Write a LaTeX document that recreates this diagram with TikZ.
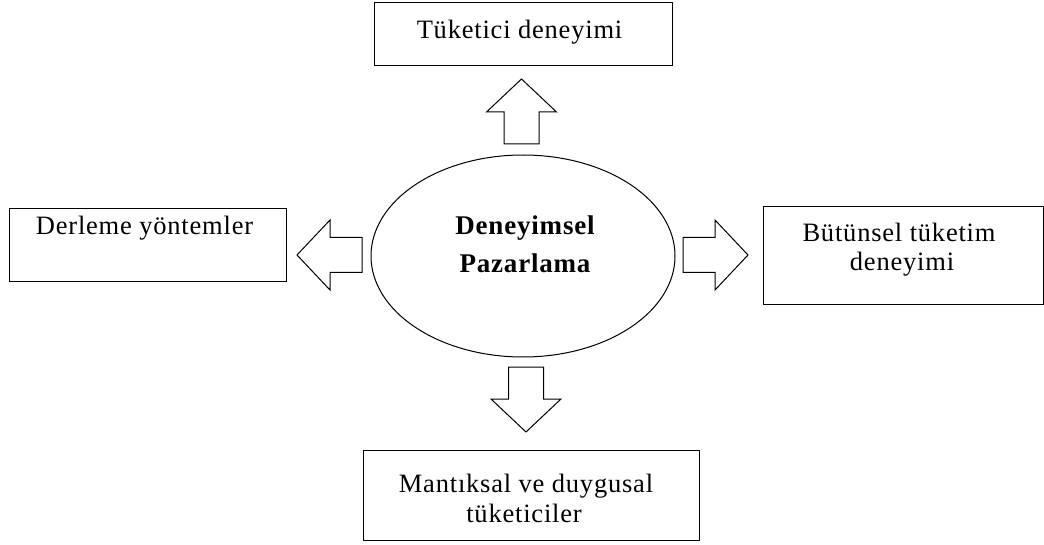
\documentclass[tikz,border=0pt]{standalone}
\usepackage{fontspec}
\setmainfont{Liberation Serif}[LetterSpace=3]
\usetikzlibrary{shapes.geometric}
\begin{document}
\begin{tikzpicture}[x=1pt,y=-1pt,
  box/.style={draw,line width=1pt,rectangle,inner sep=0pt},
  oval/.style={draw,line width=1pt,ellipse,inner sep=0pt},
  txt/.style={anchor=base,inner sep=0pt,font=\fontsize{26.5}{29}\selectfont},
  btxt/.style={anchor=base,inner sep=0pt,font=\fontsize{27}{29}\selectfont\bfseries},
  blockarrow/.pic={
    \draw[line width=1pt,line join=miter]
      (0,-17.5) -- (32,-17.5) -- (32,-35) -- (65,0) -- (32,35) -- (32,17.5) -- (0,17.5) -- cycle;
  }]
  \useasboundingbox (0,0) rectangle (1044,545);

  % centre of the diagram
  \node[oval,minimum width=304pt,minimum height=202pt] (core) at (523,256) {};
  \node[btxt] (core1) at (525,235) {Deneyimsel};
  \node[btxt] (core2) at (525,273) {Pazarlama};

  % surrounding boxes
  \node[box,minimum width=298pt,minimum height=63pt] (top) at (523,34.5) {};
  \node[txt] (top1) at (519.5,39) {Tüketici deneyimi};

  \node[box,minimum width=277pt,minimum height=73pt] (left) at (147.5,245.5) {};
  \node[txt] (left1) at (144.5,235) {Derleme yöntemler};

  \node[box,minimum width=280pt,minimum height=98pt] (right) at (903,256) {};
  \node[txt] (right1) at (899,242) {Bütünsel tüketim};
  \node[txt] (right2) at (902,271) {deneyimi};

  \node[box,minimum width=336pt,minimum height=90pt] (bottom) at (531,495) {};
  \node[txt] (bottom1) at (526,492) {Mantıksal ve duygusal};
  \node[txt] (bottom2) at (524,522) {tüketiciler};

  % block arrows from the centre outwards
  \pic[rotate=90] at (521.5,144) {blockarrow};
  \pic[rotate=180] at (362,255) {blockarrow};
  \pic at (683,255) {blockarrow};
  \pic[rotate=-90] at (526,367) {blockarrow};
\end{tikzpicture}
\end{document}
